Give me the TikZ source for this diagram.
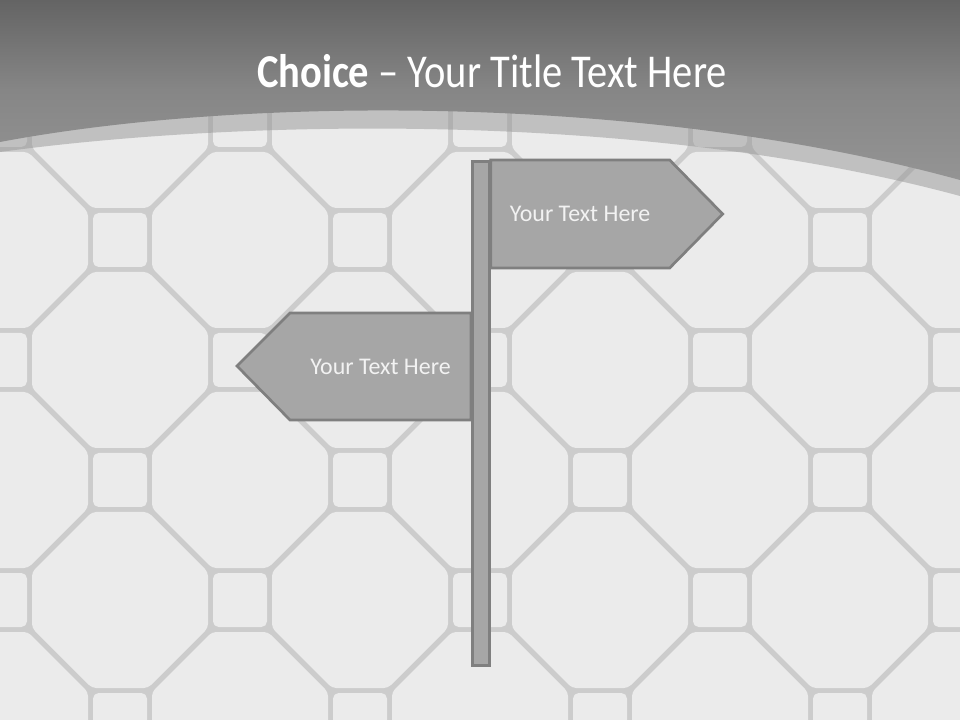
\documentclass[tikz,border=0pt]{standalone}
\usepackage{fontspec}
\setmainfont{Carlito}
\newfontfamily\titlefont[FakeStretch=0.86,Ligatures=TeX]{Carlito}
\usepackage{xcolor}
\usetikzlibrary{calc,positioning}
\definecolor{groutgray} {RGB}{204,204,204}
\definecolor{tilegray}  {RGB}{235,235,235}
\definecolor{bandgray}  {RGB}{150,150,150}
\definecolor{bannertop} {RGB}{100,100,100}
\definecolor{bannermid} {RGB}{134,134,134}
\definecolor{bannerbot} {RGB}{148,148,148}
\definecolor{signfill}  {RGB}{166,166,166}
\definecolor{signedge}  {RGB}{127,127,127}
\definecolor{signtextc} {RGB}{242,242,242}
\tikzset{
  octtile/.style ={fill=tilegray, rounded corners=3pt},
  sqtile/.style  ={fill=tilegray, rounded corners=4pt},
  band/.style    ={fill=bandgray, fill opacity=0.5},
  banner/.style  ={top color=bannertop, bottom color=bannerbot,
                   middle color=bannermid},
  titletext/.style={text=white, inner sep=0pt,
                   font=\titlefont\fontsize{33.5}{40}\selectfont},
  polebox/.style ={draw=signedge, fill=signfill, line width=1.9pt,
                   minimum width=17*0.025cm, minimum height=504*0.025cm,
                   inner sep=0pt},
  signline/.style={draw=signedge, fill=signfill, line width=1.9pt,
                   line join=miter},
  signtext/.style={text=signtextc, inner sep=0pt,
                   font=\fontsize{17}{20}\selectfont},
}
\begin{document}
\begin{tikzpicture}[x=0.025cm,y=-0.025cm]
  \useasboundingbox (0,0) rectangle (960,720);
  %% floor tiles
  \fill[groutgray] (0,0) rectangle (960,720);
  \foreach \i in {0,...,8}
    \foreach \j in {0,...,6}{
      \pgfmathtruncatemacro\tilekind{mod(\i+\j,2)}
      \ifnum\tilekind=0
        \fill[octtile, shift={(120*\i,120*\j)}] (88,-28) -- (88,28) -- (28,88)
          -- (-28,88) -- (-88,28) -- (-88,-28) -- (-28,-88) -- (28,-88) -- cycle;
      \else
        \fill[sqtile, shift={(120*\i,120*\j)}] (-27,-27) rectangle (27,27);
      \fi
    }
  %% title banner
  \fill[band] (0,0) -- (0,152) .. controls (250,118) and (650,112) .. (960,196)
    -- (960,0) -- cycle;
  \shade[banner] (0,0) -- (0,142) .. controls (250,95) and (650,95) .. (960,180)
    -- (960,0) -- cycle;
  \node[titletext, anchor=base] (title) at (492,88)
    {\textbf{Choice} -- Your Title Text Here};
  %% signpost
  \node[polebox, anchor=north west] (pole) at (471,160) {};
  \draw[signline] (pole.north east) -- ++(179,0) -- ++(53,54) -- ++(-53,54)
    -- ++(-179,0) -- cycle;
  \draw[signline] ($(pole.north west)+(0,153)$) -- ++(-181,0) -- ++(-53,53)
    -- ++(53,54) -- ++(181,0) -- cycle;
  \node[signtext] (righttext) at ($(pole.north east)+(89.5,54)$) {Your Text Here};
  \node[signtext] (lefttext) at ($(pole.north west)+(-90.5,206.5)$) {Your Text Here};
\end{tikzpicture}
\end{document}
